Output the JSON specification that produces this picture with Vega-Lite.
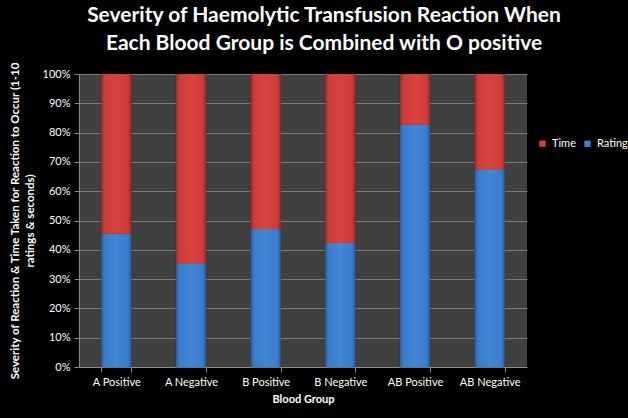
{
  "$schema": "https://vega.github.io/schema/vega-lite/v6.json",
  "width": 448,
  "height": 293,
  "autosize": "none",
  "padding": {"left": 79, "top": 74, "right": 101, "bottom": 51},
  "background": "#000000",
  "title": {
    "text": ["Severity of Haemolytic Transfusion Reaction When", "Each Blood Group is Combined with O positive"],
    "color": "#ffffff",
    "font": "Lato",
    "fontSize": 21,
    "fontWeight": "bold",
    "lineHeight": 28,
    "anchor": "middle",
    "offset": 6,
    "dx": 21
  },
  "config": {
    "view": {"fill": "#404040", "stroke": null},
    "font": "Lato"
  },
  "data": {
    "values": [
      {"group": "A Positive", "series": "Rating", "value": 45.6},
      {"group": "A Positive", "series": "Time", "value": 54.4},
      {"group": "A Negative", "series": "Rating", "value": 35.4},
      {"group": "A Negative", "series": "Time", "value": 64.6},
      {"group": "B Positive", "series": "Rating", "value": 47.1},
      {"group": "B Positive", "series": "Time", "value": 52.9},
      {"group": "B Negative", "series": "Rating", "value": 42.4},
      {"group": "B Negative", "series": "Time", "value": 57.6},
      {"group": "AB Positive", "series": "Rating", "value": 82.8},
      {"group": "AB Positive", "series": "Time", "value": 17.2},
      {"group": "AB Negative", "series": "Rating", "value": 67.5},
      {"group": "AB Negative", "series": "Time", "value": 32.5}
    ]
  },
  "encoding": {
    "x": {
      "field": "group",
      "type": "nominal",
      "sort": null,
      "scale": {"paddingInner": 0.6, "paddingOuter": 0.3},
      "axis": {
        "title": "Blood Group",
        "titleColor": "#ffffff",
        "titleFont": "Lato",
        "titleFontSize": 11,
        "titleFontWeight": "bold",
        "titlePadding": 6,
        "labelAngle": 0,
        "labelColor": "#ffffff",
        "labelFont": "Lato",
        "labelFontSize": 11,
        "labelPadding": 4,
        "domainColor": "#8c8c8c",
        "tickColor": "#8c8c8c",
        "tickBand": "extent",
        "tickSize": 5,
        "grid": false
      }
    },
    "y": {
      "field": "value",
      "type": "quantitative",
      "stack": "normalize",
      "scale": {"domain": [0, 1], "nice": false},
      "axis": {
        "format": ".0%",
        "values": [0, 0.1, 0.2, 0.3, 0.4, 0.5, 0.6, 0.7, 0.8, 0.9, 1],
        "labelOverlap": false,
        "labelFlush": false,
        "title": ["Severity of Reaction  & Time Taken for Reaction to Occur (1-10", "ratings & seconds)"],
        "titleColor": "#ffffff",
        "titleFont": "Lato",
        "titleFontSize": 11.5,
        "titleFontWeight": "bold",
        "titleLineHeight": 15,
        "titlePadding": 7,
        "labelColor": "#ffffff",
        "labelFont": "Lato",
        "labelFontSize": 11,
        "labelPadding": 4,
        "domainColor": "#8c8c8c",
        "tickColor": "#8c8c8c",
        "tickSize": 5,
        "gridColor": "#7a7a7a",
        "gridWidth": 1
      }
    },
    "order": {"field": "series", "sort": "ascending"}
  },
  "layer": [
    {
      "mark": {"type": "bar", "stroke": "#222222", "strokeWidth": 0.5},
      "encoding": {
        "color": {
          "field": "series",
          "type": "nominal",
          "scale": {"domain": ["Time", "Rating"], "range": ["#d23f3a", "#3e80d2"]},
          "legend": {
            "title": null,
            "orient": "none",
            "direction": "horizontal",
            "legendX": 458,
            "legendY": 64,
            "symbolType": "square",
            "symbolSize": 40,
            "symbolStrokeWidth": 0,
            "labelColor": "#ffffff",
            "labelFont": "Lato",
            "labelFontSize": 11,
            "columnPadding": 6
          }
        }
      }
    },
    {
      "mark": {"type": "bar", "strokeWidth": 0},
      "encoding": {
        "fill": {
          "condition": {
            "test": "datum.series === 'Time'",
            "value": {
              "gradient": "linear", "x1": 0, "y1": 0, "x2": 1, "y2": 0,
              "stops": [
                {"offset": 0, "color": "#9e2a26"},
                {"offset": 0.12, "color": "#cf3d38"},
                {"offset": 0.5, "color": "#d8433e"},
                {"offset": 0.88, "color": "#cf3d38"},
                {"offset": 1, "color": "#9e2a26"}
              ]
            }
          },
          "value": {
            "gradient": "linear", "x1": 0, "y1": 0, "x2": 1, "y2": 0,
            "stops": [
              {"offset": 0, "color": "#2c5f9e"},
              {"offset": 0.12, "color": "#3b7dcd"},
              {"offset": 0.5, "color": "#4286d6"},
              {"offset": 0.88, "color": "#3b7dcd"},
              {"offset": 1, "color": "#2c5f9e"}
            ]
          }
        }
      }
    }
  ]
}
